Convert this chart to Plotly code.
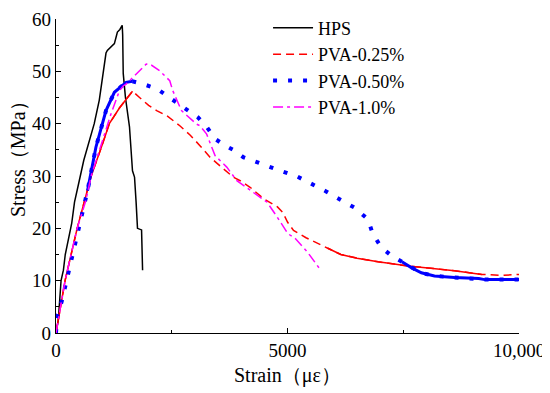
import plotly.graph_objects as go

# HPS (black, solid)
hps_x = [0, 50, 109, 160, 200, 304, 340, 400, 485, 500, 600, 681, 750, 826, 935, 1000, 1050, 1080, 1109,
         1189, 1261, 1300, 1326, 1380, 1413, 1430, 1440, 1452, 1500, 1587, 1652, 1696, 1730, 1760, 1848, 1870]
hps_y = [0, 2.5, 10, 12, 15, 20, 21, 25, 28, 29, 33, 35.6, 37.5, 40, 44.5, 49, 52.5, 53.5, 54,
         54.7, 55.3, 56.6, 57.5, 58, 58.5, 58.8, 57, 49.6, 45, 39.4, 31, 29.8, 25, 20, 19.7, 12]

# PVA-0.25% (red, dashed)
r_x = [0, 196, 457, 760, 1000, 1152, 1370, 1500, 1652, 1804, 2000, 2174, 2400, 2674, 2900, 3109, 3326,
       3600, 3826, 3978, 4200, 4478, 4783, 4900, 5000, 5130, 5400, 5870, 6152, 6500, 6957, 7609, 8200,
       8609, 9196, 9630, 10000]
r_y = [0, 10, 20, 30, 36, 40, 43, 44.5, 46.2, 45, 43.5, 42.5, 41.5, 39.6, 37.8, 35.8, 33.6,
       31.5, 29.8, 29.1, 27.8, 25.7, 24.1, 23, 21.2, 19.6, 18.2, 16.2, 15.0, 14.3, 13.6, 12.8, 12.3,
       11.9, 11.2, 11.0, 11.2]

# PVA-0.50% (blue, dotted)
b_x = [0, 22, 123, 196, 283, 355, 413, 478, 536, 594, 645, 681, 862, 1080, 1261, 1515, 1652, 1870, 2174,
       2457, 2739, 3065, 3254, 3435, 3652, 3826, 4043, 4341, 4522, 4848, 5210, 5500, 5826, 6152, 6457,
       6739, 6840, 7022, 7254, 7471, 7674, 7891, 8174, 8609, 9130, 9261, 10000]
b_y = [0, 3.1, 6.0, 8.8, 11.9, 14.7, 17.4, 19.5, 21.9, 24.1, 26.0, 27.2, 35.5, 42.5, 46, 47.9, 48.1, 47.6, 46.7,
       45, 43.1, 41.2, 39.4, 37.1, 35.8, 35.0, 33.6, 32.6, 32.0, 31.0, 29.9, 28.6, 27.1, 25.4, 23.9,
       21.7, 19.0, 16.4, 14.7, 13.6, 12.5, 11.5, 10.9, 10.6, 10.4, 10.2, 10.2]

# PVA-1.0% (magenta, dash-dot)
m_x = [0, 196, 457, 645, 760, 1000, 1189, 1370, 1450, 1520, 1652, 1804, 1950, 2058, 2239, 2457, 2522,
       2710, 3036, 3109, 3254, 3435, 3688, 3906, 4261, 4558, 4775, 5007, 5174, 5428, 5717]
m_y = [0, 10, 20, 25.3, 30, 36.5, 41.9, 46.3, 47.2, 47.6, 48.8, 50.1, 51.4, 51.2, 50.1, 48.2, 46.3,
       42.5, 39.9, 39.6, 38.0, 33.9, 31.7, 29.1, 26.9, 25.0, 22.2, 19.0, 18.0, 15.5, 12.0]

x_title = "Strain（με）"
y_title = "Stress（MPa）"

FONT = "Liberation Serif"

fig = go.Figure()
fig.add_trace(go.Scatter(x=hps_x, y=hps_y, mode="lines", name="HPS",
                         line=dict(color="black", width=1.5)))
fig.add_trace(go.Scatter(x=r_x, y=r_y, mode="lines", name="PVA-0.25%",
                         line=dict(color="#ff0000", width=1.5, dash="8px,5px")))
# dense-data parts of the red curve appear solid
fig.add_trace(go.Scatter(x=r_x[:9], y=r_y[:9], mode="lines", showlegend=False,
                         line=dict(color="#ff0000", width=1.5)))
fig.add_trace(go.Scatter(x=r_x[27:35], y=r_y[27:35], mode="lines", showlegend=False,
                         line=dict(color="#ff0000", width=1.5)))
fig.add_trace(go.Scatter(x=b_x, y=b_y, mode="lines", name="PVA-0.50%",
                         line=dict(color="#0000ff", width=4, dash="4px,11px")))
fig.add_trace(go.Scatter(x=b_x[11:17], y=b_y[11:17], mode="lines", showlegend=False,
                         line=dict(color="#0000ff", width=3)))
fig.add_trace(go.Scatter(x=b_x[39:], y=b_y[39:], mode="lines", showlegend=False,
                         line=dict(color="#0000ff", width=3)))
fig.add_trace(go.Scatter(x=m_x, y=m_y, mode="lines", name="PVA-1.0%",
                         line=dict(color="#ff00ff", width=1.5, dash="10px,4px,3px,4px")))

# page body has an 8px margin, so the figure is 8px smaller and left/top margins shifted
fig.update_layout(
    width=542, height=385,
    margin=dict(l=48, r=31, t=11, b=60, autoexpand=False),
    paper_bgcolor="white", plot_bgcolor="white",
    font=dict(family=FONT, size=19, color="black"),
    showlegend=True,
    legend=dict(x=0.458, y=1.03, xanchor="left", yanchor="top",
                bgcolor="rgba(0,0,0,0)", font=dict(family=FONT, size=18),
                tracegroupgap=0, itemwidth=40),
    xaxis=dict(range=[0, 10000], tickvals=[0, 5000, 10000], ticktext=["0", "5000", "10,000"],
               ticks="inside", ticklen=5, tickwidth=1, tickcolor="black", automargin=False,
               tickfont=dict(family=FONT, size=19),
               minor=dict(tickvals=[2500, 7500], ticks="inside", ticklen=3, tickcolor="black"),
               showline=True, linecolor="black", linewidth=1.3, showgrid=False, zeroline=False),
    yaxis=dict(range=[0, 60], tickvals=[0, 10, 20, 30, 40, 50, 60],
               ticks="inside", ticklen=5, tickwidth=1, tickcolor="black", automargin=False,
               tickfont=dict(family=FONT, size=19),
               minor=dict(tickvals=[5, 15, 25, 35, 45, 55], ticks="inside", ticklen=3, tickcolor="black"),
               showline=True, linecolor="black", linewidth=1.3, showgrid=False, zeroline=False),
    annotations=[
        dict(text=x_title, xref="paper", yref="paper", x=0.5, y=-0.134, xanchor="center",
             yanchor="middle", showarrow=False, font=dict(family=FONT, size=20)),
        dict(text=y_title, xref="paper", yref="paper", x=-0.082, y=0.57, xanchor="center",
             yanchor="middle", textangle=-90, showarrow=False, font=dict(family=FONT, size=20)),
    ],
)

fig.write_html("out.html")
